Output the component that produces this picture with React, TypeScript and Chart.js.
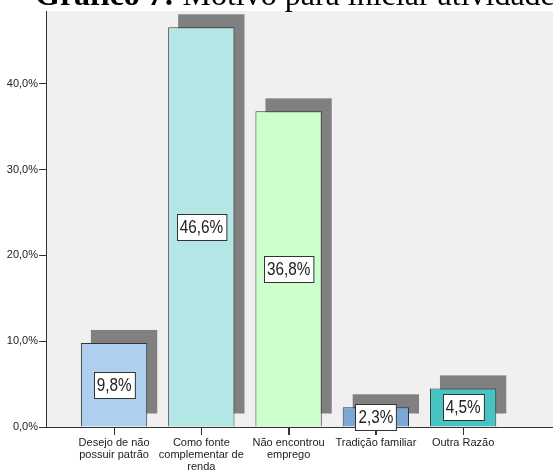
import React, { useEffect, useRef } from "react";
import { Chart, registerables } from "chart.js";
Chart.register(...registerables);

const categories: (string | string[])[] = [
  ["Desejo de não", "possuir patrão"],
  ["Como fonte", "complementar de", "renda"],
  ["Não encontrou", "emprego"],
  "Tradição familiar",
  "Outra Razão",
];
const values = [9.8, 46.6, 36.8, 2.3, 4.5];
const barColors = ["#aecfee", "#b4e6e6", "#ccffcc", "#7ba7d6", "#46c3c3"];
const yTicks = [0, 10, 20, 30, 40];
const titleBold = "Gráfico 7:";
const titleRest = " Motivo para iniciar atividade";

const fmt = (v: number) => v.toFixed(1).replace(".", ",") + "%";

export default function App() {
  const ref = useRef<HTMLCanvasElement>(null);
  useEffect(() => {
    if (!ref.current) return;
    const bgPlugin = {
      id: "bg",
      beforeDraw(chart: any) {
        const { ctx, chartArea: a } = chart;
        ctx.save();
        ctx.fillStyle = "#ffffff";
        ctx.fillRect(0, 0, chart.width, chart.height);
        ctx.fillStyle = "#f0f0f0";
        ctx.fillRect(a.left, a.top, a.right - a.left, a.bottom - a.top);
        ctx.restore();
      },
      afterDraw(chart: any) {
        const { ctx } = chart;
        ctx.save();
        ctx.fillStyle = "#000";
        ctx.textBaseline = "alphabetic";
        ctx.textAlign = "left";
        ctx.font = "bold 32px 'Liberation Serif'";
        const x0 = 35;
        const y0 = 5;
        ctx.fillText(titleBold, x0, y0);
        const w = ctx.measureText(titleBold).width;
        ctx.font = "32px 'Liberation Serif'";
        ctx.fillText(titleRest, x0 + w, y0);
        ctx.restore();
      },
    };
    const shadowPlugin = {
      id: "shadow",
      beforeDatasetsDraw(chart: any) {
        const { ctx } = chart;
        const meta = chart.getDatasetMeta(0);
        ctx.save();
        ctx.fillStyle = "#808080";
        meta.data.forEach((el: any) => {
          const w = el.width;
          ctx.fillRect(el.x - w / 2 + 10, el.y - 13, w, el.base - el.y);
        });
        // x-axis tick marks
        const xs = chart.scales.x;
        const bottom = chart.chartArea.bottom;
        ctx.strokeStyle = "#333";
        ctx.lineWidth = 1;
        categories.forEach((_, i) => {
          const px = Math.round(xs.getPixelForValue(i)) + 0.5;
          ctx.beginPath();
          ctx.moveTo(px, bottom);
          ctx.lineTo(px, bottom + 8);
          ctx.stroke();
        });
        ctx.restore();
      },
      afterDatasetsDraw(chart: any) {
        const { ctx } = chart;
        const meta = chart.getDatasetMeta(0);
        ctx.save();
        meta.data.forEach((el: any, i: number) => {
          const txt = fmt(values[i]);
          const sx = 0.85;
          ctx.font = "18px 'Liberation Sans'";
          const tw = ctx.measureText(txt).width * sx;
          const bw = tw + 6;
          const bh = 26;
          const cy = (el.y + el.base) / 2;
          const bx = Math.round(el.x - bw / 2) + 0.5;
          const by = Math.round(cy - bh / 2) + 0.5;
          ctx.fillStyle = "#ffffff";
          ctx.fillRect(bx, by, bw, bh);
          ctx.strokeStyle = "#333";
          ctx.lineWidth = 1;
          ctx.strokeRect(bx, by, bw, bh);
          ctx.save();
          ctx.translate(el.x, cy + 1);
          ctx.scale(sx, 1);
          ctx.fillStyle = "#222";
          ctx.textAlign = "center";
          ctx.textBaseline = "middle";
          ctx.fillText(txt, 0, 0);
          ctx.restore();
        });
        ctx.restore();
      },
    };
    const chart = new Chart(ref.current, {
      type: "bar",
      data: {
        datasets: [
          {
            data: values.map((v, i) => ({ x: i, y: v })),
            backgroundColor: barColors,
            borderColor: "#333",
            borderWidth: 1,
            barPercentage: 0.76,
            categoryPercentage: 1,
          },
        ],
      },
      options: {
        responsive: false,
        animation: false,
        devicePixelRatio: 1,
        layout: { padding: { top: 11, left: 0, right: 0, bottom: 0 } },
        plugins: { legend: { display: false }, tooltip: { enabled: false }, title: { display: false } },
        scales: {
          x: {
            type: "linear",
            min: -0.78,
            max: 5.03,
            offset: false,
            afterBuildTicks: (s: any) => {
              s.ticks = categories.map((_, i) => ({ value: i }));
            },
            afterFit: (s: any) => {
              s.height = 45;
            },
            grid: { offset: false, drawOnChartArea: false, drawTicks: true, tickLength: 8, color: "#333" },
            border: { display: true, color: "#333", width: 1 },
            ticks: {
              autoSkip: false,
              maxRotation: 0,
              padding: 2,
              color: "#222",
              font: { family: "'Liberation Sans', Arial", size: 11, lineHeight: 1.1 },
              callback: (v: any) => categories[v as number] as any,
            },
          },
          y: {
            min: 0,
            max: 48.5,
            afterBuildTicks: (s: any) => {
              s.ticks = yTicks.map((v) => ({ value: v }));
            },
            afterFit: (s: any) => {
              s.width = 46;
            },
            grid: { drawOnChartArea: false, drawTicks: true, tickLength: 7, color: "#333" },
            border: { display: true, color: "#333", width: 1 },
            ticks: {
              padding: 1,
              color: "#222",
              font: { family: "'Liberation Sans', Arial", size: 11 },
              callback: (v: any) => fmt(v as number),
            },
          },
        },
      },
      plugins: [bgPlugin, shadowPlugin],
    } as any);
    return () => chart.destroy();
  }, []);
  return (
    <div style={{ position: "absolute", left: 0, top: 0, width: 553, height: 472 }}>
      <canvas ref={ref} width={553} height={472} style={{ display: "block" }} />
    </div>
  );
}
